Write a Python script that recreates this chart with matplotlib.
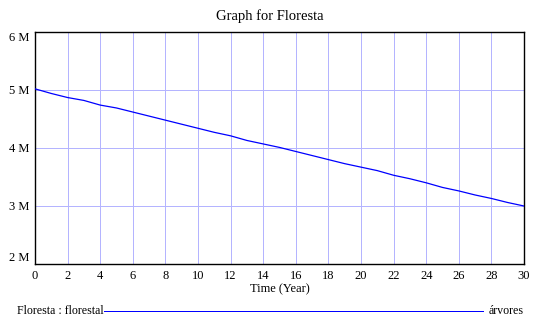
import matplotlib
matplotlib.use("Agg")
import matplotlib.pyplot as plt
from matplotlib.lines import Line2D

# forest stock per simulated year (trees)
years = list(range(31))
floresta = [5.02, 4.94, 4.87, 4.82, 4.74, 4.69, 4.62, 4.55, 4.48, 4.41,
            4.34, 4.27, 4.21, 4.13, 4.07, 4.01, 3.94, 3.87, 3.80, 3.73,
            3.67, 3.61, 3.53, 3.47, 3.40, 3.32, 3.26, 3.19, 3.13, 3.06,
            3.00]
floresta = [v * 1e6 for v in floresta]

x_ticks = list(range(0, 31, 2))
y_ticks = [2e6, 3e6, 4e6, 5e6, 6e6]
y_labels = ["2 M", "3 M", "4 M", "5 M", "6 M"]

plt.rcParams["font.family"] = ["Liberation Serif", "DejaVu Serif"]

PX = 0.72  # one pixel at 100 dpi, in points

W, H = 541, 331
fig = plt.figure(figsize=(W / 100, H / 100), dpi=100)
ax = fig.add_axes([35 / W, 1 - 264 / H, (524 - 35) / W, (264 - 32) / H])

ax.plot(years, floresta, color="#0000ff", lw=0.9, zorder=3)

ax.set_xlim(0, 30)
ax.set_ylim(2e6, 6e6)
ax.set_xticks(x_ticks)
ax.set_yticks(y_ticks)
ax.set_yticklabels(y_labels)
ax.grid(True, color="#b4b4ff", lw=PX, antialiased=False)
ax.set_axisbelow(True)
ax.tick_params(length=0, labelsize=9, pad=4)
for s in ax.spines.values():
    s.set_color("black")
    s.set_linewidth(1.0)

# keep the end labels inside the plot height
ylabs = ax.get_yticklabels()
ylabs[0].set_va("bottom")
ylabs[-1].set_va("top")

ax.set_xlabel("Time (Year)", fontsize=9, labelpad=1)
fig.text(270 / W, 1 - 16 / H, "Graph for Floresta", ha="center", va="center",
         fontsize=10.5)

# legend row at the bottom
ly = 1 - 311 / H
fig.text(17 / W, ly, "Floresta : florestal", ha="left", va="center", fontsize=8.6)
fig.add_artist(Line2D([104 / W, 483 / W], [ly, ly], color="#0000ff", lw=PX,
                      transform=fig.transFigure, antialiased=False))
fig.text(489 / W, ly, "árvores", ha="left", va="center", fontsize=8.6)

fig.savefig("out.png", dpi=100)
